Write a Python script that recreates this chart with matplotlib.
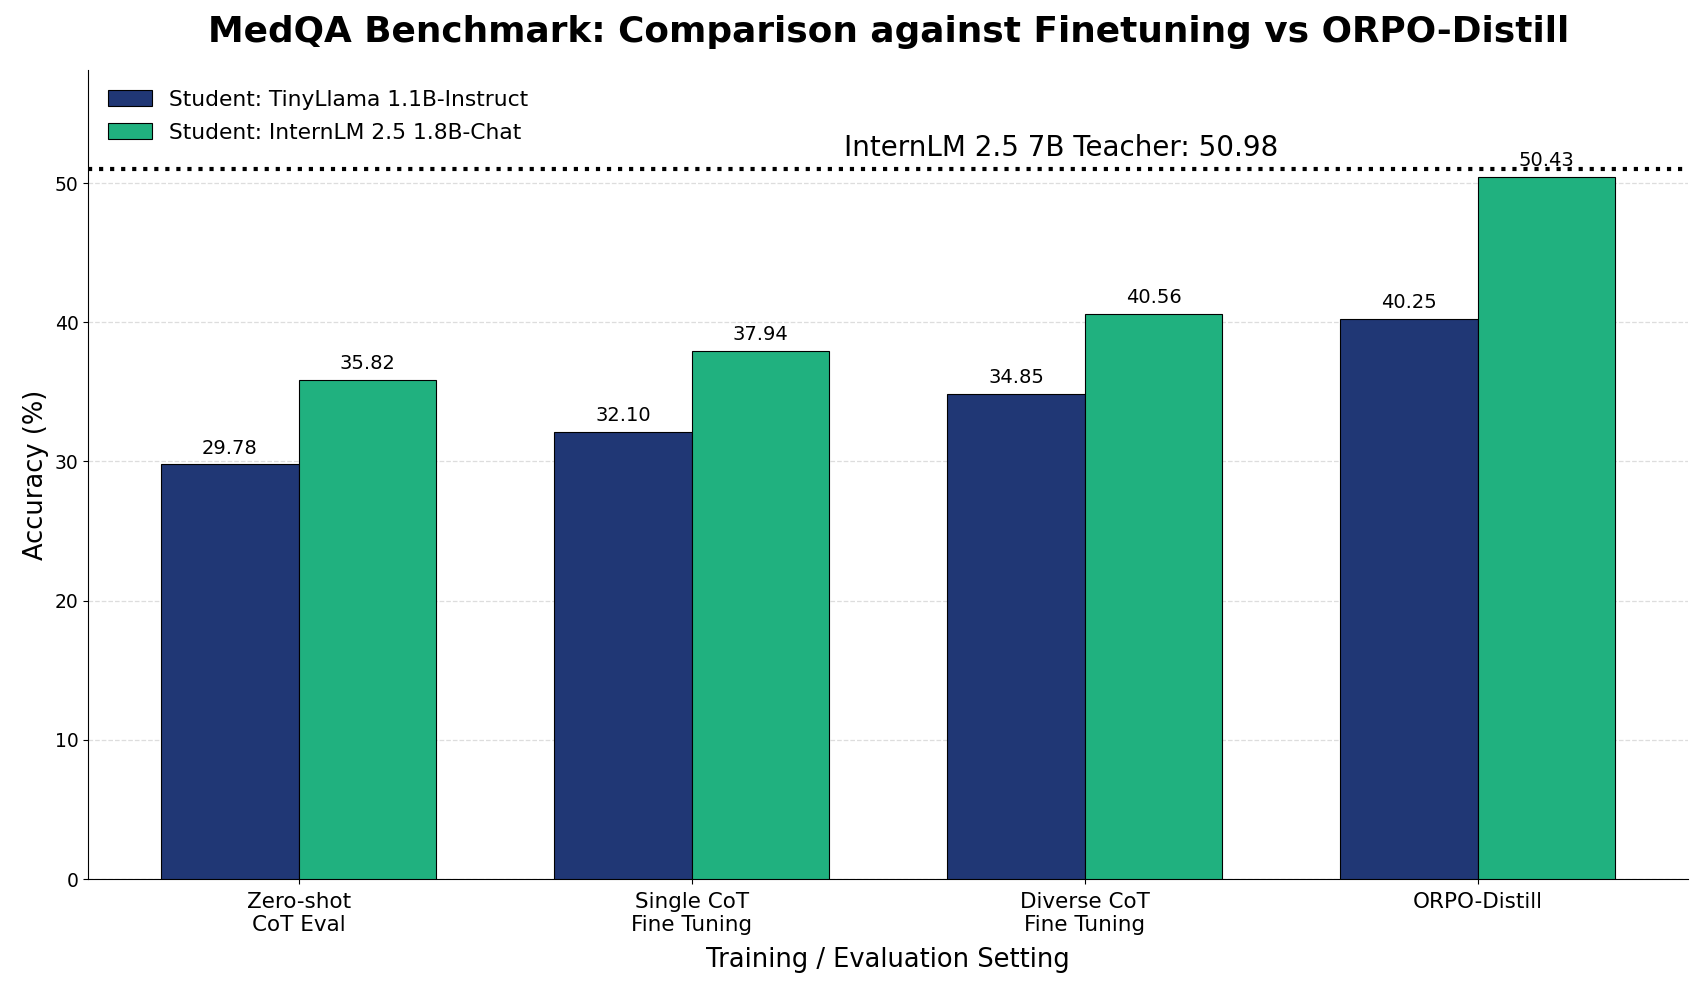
import numpy as np
import matplotlib
matplotlib.use("Agg")
import matplotlib.pyplot as plt

#=========== data ============#
settings = ["Zero-shot\nCoT Eval", "Single CoT\nFine Tuning",
            "Diverse CoT\nFine Tuning", "ORPO-Distill"]
tinyllama = [29.78, 32.10, 34.85, 40.25]
internlm = [35.82, 37.94, 40.56, 50.43]
teacher_score = 50.98
series_names = ["Student: TinyLlama 1.1B-Instruct", "Student: InternLM 2.5 1.8B-Chat"]

#=========== plot ============#
fig = plt.figure(figsize=(17, 9.86), dpi=100)
ax = fig.add_axes([0.052, 0.1085, 0.941, 0.8205])

x = np.arange(len(settings))
w = 0.35
b1 = ax.bar(x - w / 2, tinyllama, w, color="#203775", edgecolor="black",
            linewidth=0.8, label=series_names[0], zorder=3)
b2 = ax.bar(x + w / 2, internlm, w, color="#20b17f", edgecolor="black",
            linewidth=0.8, label=series_names[1], zorder=3)
ax.bar_label(b1, fmt="%.2f", padding=5, fontsize=14)
ax.bar_label(b2, fmt="%.2f", padding=5, fontsize=14)

# teacher line
ax.axhline(teacher_score, color="black", linestyle=":", linewidth=3, zorder=4)
ax.text(1.94, teacher_score + 0.55, f"InternLM 2.5 7B Teacher: {teacher_score:.2f}",
        ha="center", va="bottom", fontsize=20)

ax.set_ylim(0, teacher_score * 1.14)
ax.set_xticks(x)
ax.set_xticklabels(settings, fontsize=15.5)
ax.tick_params(axis="x", pad=6)
ax.tick_params(axis="y", labelsize=13.5)
ax.set_xlabel("Training / Evaluation Setting", fontsize=18.5, labelpad=8)
ax.set_ylabel("Accuracy (%)", fontsize=18.5)
ax.set_title("MedQA Benchmark: Comparison against Finetuning vs ORPO-Distill",
             fontsize=25.8, fontweight="bold", pad=20)
ax.yaxis.grid(True, linestyle="--", color="#dddddd", linewidth=0.9, zorder=0)
ax.set_axisbelow(True)
ax.spines["top"].set_visible(False)
ax.spines["right"].set_visible(False)
ax.legend(loc="upper left", frameon=False, fontsize=15.7, labelspacing=0.6)

plt.savefig("out.png", dpi=100)
